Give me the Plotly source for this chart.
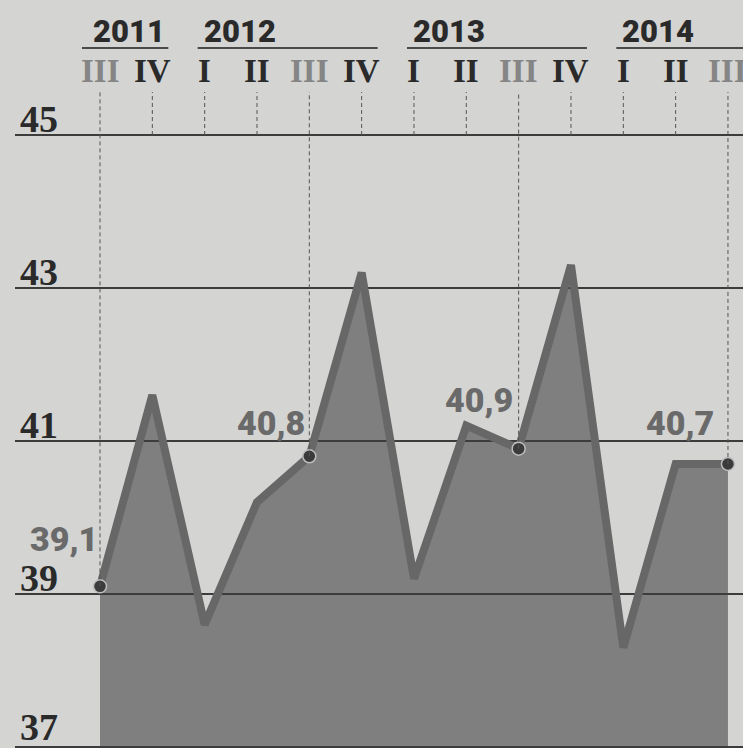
import plotly.graph_objects as go

# ---- data ----
quarters = ["III", "IV", "I", "II", "III", "IV", "I", "II", "III", "IV", "I", "II", "III"]
years = ["2011", "2011", "2012", "2012", "2012", "2012", "2013", "2013", "2013", "2013", "2014", "2014", "2014"]
values = [39.1, 41.6, 38.6, 40.2, 40.8, 43.2, 39.2, 41.2, 40.9, 43.3, 38.3, 40.7, 40.7]
highlight_idx = [0, 4, 8, 12]
highlight_labels = ["39,1", "40,8", "40,9", "40,7"]
y_ticks = [37, 39, 41, 43, 45]

# ---- geometry / style ----
W, H = 743, 748
X0PX, XSTEP = 100.0, 52.33
Y45PX, YSTEP = 135.0, 76.5
x_range = [-X0PX / XSTEP, (W - X0PX) / XSTEP]
y_range = [45 - (H - Y45PX) / YSTEP, 45 + Y45PX / YSTEP]

BG = "#d4d4d2"
FILL = "#7f7f7f"
LINE = "#676767"
DARK = "#2a2a2a"
SERIF = "Liberation Serif, Times New Roman, serif"
SANS = "Roboto, Open Sans, sans-serif"

xs = list(range(len(values)))

fig = go.Figure()
fig.add_trace(go.Scatter(x=xs, y=values, mode="lines", fill="tozeroy",
                         fillcolor=FILL, line=dict(width=0), hoverinfo="skip"))
grid_x = [x_range[0] + 15 / XSTEP, x_range[1]]
for t in y_ticks:
    fig.add_trace(go.Scatter(x=grid_x, y=[t, t], mode="lines",
                             line=dict(color="#3c3c3c", width=2), hoverinfo="skip"))
fig.add_trace(go.Scatter(x=xs, y=values, mode="lines",
                         line=dict(color=LINE, width=8), hoverinfo="skip"))
fig.add_trace(go.Scatter(x=[xs[i] for i in highlight_idx],
                         y=[values[i] for i in highlight_idx], mode="markers",
                         marker=dict(size=13, color="#3b3b3b",
                                     line=dict(color="#bdbdbd", width=1.5)),
                         hoverinfo="skip"))

ann = []
shapes = []

# y tick labels
for t in y_ticks:
    ann.append(dict(x=18 / W, xref="paper", xanchor="left", y=t, yref="y",
                    yanchor="bottom", yshift=-7 if t != y_ticks[0] else -3,
                    text=str(t), showarrow=False,
                    font=dict(family=SERIF, size=38, color=DARK, weight=700)))

# quarter labels + dashed guides
top_guide = y_range[1] - 92 / YSTEP
for i, q in enumerate(quarters):
    col = "#858585" if i in highlight_idx else DARK
    ann.append(dict(x=i, xref="x", y=1 - 71 / H, yref="paper", yanchor="middle",
                    text=q, showarrow=False,
                    font=dict(family=SERIF, size=33, color=col, weight=700)))
    y_end = values[i] if i in highlight_idx else 45
    shapes.append(dict(type="line", xref="x", yref="y", x0=i, x1=i,
                       y0=y_end, y1=top_guide,
                       line=dict(color="#555555", width=1, dash="4px,3px")))

# year labels and underlines
half_w = {"I": 7, "II": 13, "III": 18, "IV": 16}
seen = []
for y in years:
    if y not in seen:
        seen.append(y)
for y in seen:
    idx = [i for i, yy in enumerate(years) if yy == y]
    first, last = idx[0], idx[-1]
    shift = -9 if first == 0 else -3
    ann.append(dict(x=first, xref="x", xanchor="left", xshift=shift,
                    y=1 - 31 / H, yref="paper", yanchor="middle",
                    text=y, showarrow=False,
                    font=dict(family=SANS, size=31, color=DARK, weight=900)))
    x0 = first - half_w[quarters[first]] / XSTEP
    x1 = last + half_w[quarters[last]] / XSTEP
    shapes.append(dict(type="line", xref="x", yref="paper", x0=x0, x1=x1,
                       y0=1 - 48 / H, y1=1 - 48 / H,
                       line=dict(color="#4a4a4a", width=2)))

# data labels
label_yshift = [47, 33, 49, 41]
label_xshift = [0, -2, -4, -12]
for k, i in enumerate(highlight_idx):
    ann.append(dict(x=i, xref="x", xanchor="right", xshift=label_xshift[k],
                    y=values[i], yref="y", yanchor="middle", yshift=label_yshift[k],
                    text=highlight_labels[k], showarrow=False,
                    font=dict(family=SANS, size=34, color="#6a6a6a", weight=900)))

fig.update_layout(
    width=W, height=H, margin=dict(l=0, r=0, t=0, b=0),
    paper_bgcolor=BG, plot_bgcolor=BG, showlegend=False,
    xaxis=dict(range=x_range, visible=False, fixedrange=True),
    yaxis=dict(range=y_range, visible=False, fixedrange=True),
    annotations=ann, shapes=shapes,
)
fig.write_html("out.html")
